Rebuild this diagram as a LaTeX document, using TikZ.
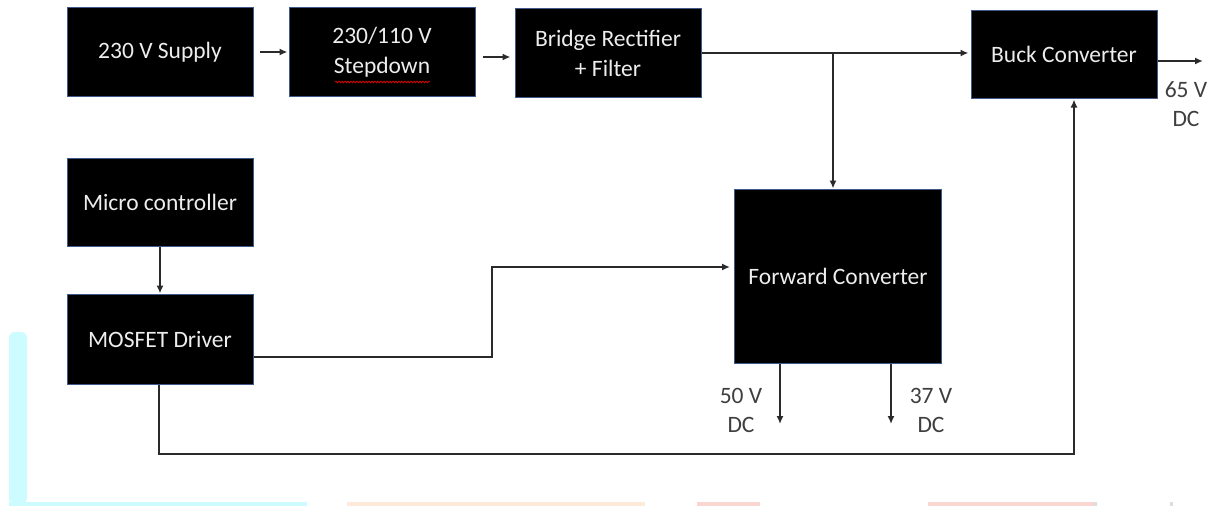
\documentclass[tikz,border=0pt]{standalone}
\usepackage{fontspec}
\setmainfont{Carlito}
\usetikzlibrary{arrows.meta,decorations.pathmorphing}
\definecolor{edgeblue}{HTML}{3F5A8A}
\definecolor{linegray}{HTML}{2A2A2A}
\definecolor{wmcyan}{HTML}{CCFCFF}
\definecolor{wmpeach}{HTML}{FDEADB}
\definecolor{wmpink}{HTML}{FBD6D0}
\definecolor{wmgray}{HTML}{DDDDDD}
\tikzset{
  blk/.style={draw=edgeblue, line width=1pt, fill=black, text=white!93!black,
    inner sep=0pt, align=center, font=\fontsize{23.5}{30}\selectfont},
  conn/.style={draw=linegray, line width=1.8pt, line cap=butt,
    -{Latex[length=8pt,width=7pt]}},
  wire/.style={draw=linegray, line width=1.8pt},
  lbl/.style={text=linegray!90, align=center, inner sep=0pt,
    font=\fontsize{23.5}{29}\selectfont},
}
\begin{document}
\begin{tikzpicture}[x=1pt,y=-1pt]
\useasboundingbox (0,0) rectangle (1219,506);
\fill[white] (0,0) rectangle (1219,506);
% faint watermark bands
\fill[wmcyan, rounded corners=6pt] (9,332) rectangle (27,504);
\fill[wmcyan] (9,502) rectangle (307,506);
\fill[wmpeach] (347,502) rectangle (645,506);
\fill[wmpink] (697,502) rectangle (760,506);
\fill[wmpink] (928,502) rectangle (1094,506);
\fill[wmgray] (1094,502) rectangle (1097,506);
\fill[wmgray] (1170,502) rectangle (1173,506);

% blocks
\node[blk, minimum width=186pt, minimum height=89pt] (sup) at (160,52) {230 V Supply};
\node[blk, minimum width=186pt, minimum height=89pt] (stp) at (382,52) {230/110 V\\Stepdown};
\node[blk, minimum width=186pt, minimum height=89pt] (brg) at (608,53) {Bridge Rectifier\\+ Filter};
\node[blk, minimum width=186pt, minimum height=88pt] (buck) at (1064,54) {Buck Converter};
\node[blk, minimum width=186pt, minimum height=88pt] (mcu) at (160,202) {Micro controller};
\node[blk, minimum width=186pt, minimum height=90pt] (drv) at (160,339) {MOSFET Driver};
\node[blk, minimum width=207pt, minimum height=174pt] (fwd) at (838,276) {Forward Converter};

% spell-check underline
\draw[red!85!black, line width=0.8pt, decorate,
  decoration={snake, segment length=3pt, amplitude=0.8pt}] (335,82) -- (430,82);

% top row
\draw[conn, shorten <=6pt, shorten >=1pt] (sup.east) -- (stp.west);
\draw[conn, shorten <=7pt, shorten >=4pt] ([yshift=-5pt]stp.east) -- ([yshift=-5pt]stp.east -| brg.west);
\coordinate (j) at (833,53);
\draw[conn, shorten >=2pt] (brg.east) -- (brg.east -| buck.west);
\draw[conn] (j) -- (j |- fwd.north);

% buck output
\coordinate (o65) at (1203,61);
\draw[conn] (buck.east |- o65) -- (o65);
\node[lbl] (l65) at (1186,104) {65 V\\DC};

% controller to driver
\draw[conn] (mcu.south) -- (drv.north);

% driver to forward converter
\coordinate (k1) at (492,357);
\coordinate (k2) at (492,267);
\draw[conn, shorten >=4pt] (drv.east |- k1) -- (k1) -- (k2) -- (fwd.west |- k2);

% driver to buck (feedback)
\coordinate (f1) at (159,454);
\coordinate (f2) at (1074,454);
\draw[conn, shorten >=1pt] (drv.south -| f1) -- (f1) -- (f2) -- (f2 |- buck.south);

% forward outputs
\coordinate (o50) at (780,424);
\coordinate (o37) at (891,424);
\draw[conn] (fwd.south -| o50) -- (o50);
\draw[conn] (fwd.south -| o37) -- (o37);
\node[lbl] (l50) at (741,410) {50 V\\DC};
\node[lbl] (l37) at (931,410) {37 V\\DC};
\end{tikzpicture}
\end{document}
